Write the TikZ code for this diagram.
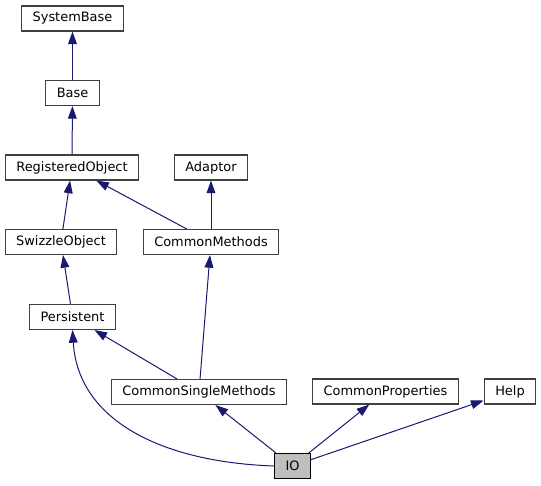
\documentclass[tikz,border=0pt]{standalone}
\usepackage{fontspec}
\setmainfont{DejaVu Sans}
\usetikzlibrary{arrows.meta}
\definecolor{edgeblue}{HTML}{191970}
\definecolor{boxline}{HTML}{404040}
\definecolor{curfill}{HTML}{BFBFBF}
\tikzset{
  cls/.style={draw=boxline, line width=0.8pt, fill=white, inner xsep=8.3pt, inner ysep=0pt,
              minimum height=18.75pt, font=\fontsize{9.7}{11}\selectfont},
  cur/.style={cls, fill=curfill, draw=black},
  inherit/.style={draw=edgeblue, line width=0.75pt, -{Triangle[length=9.5pt,width=6.6pt]}}
}
\begin{document}
\begin{tikzpicture}[x=0.75pt,y=-0.75pt]
                                \useasboundingbox (0,0) rectangle (541,485);
                                \node[cls] (sysbase) at (72.5,18.5) {SystemBase};
                                \node[cls] (base) at (72.5,93) {Base};
                                \node[cls] (regobj) at (72,167.5) {RegisteredObject};
                                \node[cls] (adaptor) at (211,167.5) {Adaptor};
                                \node[cls] (swizzle) at (61,242) {SwizzleObject};
                                \node[cls] (cmeth) at (211,242) {CommonMethods};
                                \node[cls] (persist) at (72.5,317) {Persistent};
                                \node[cls] (csmeth) at (199,392) {CommonSingleMethods};
                                \node[cls] (cprops) at (385.5,391.5) {CommonProperties};
                                \node[cls] (help) at (510,391.5) {Help};
                                \node[cur] (io) at (292.5,466) {IO};
                                \draw[inherit] (base) -- (sysbase);
                                \draw[inherit] (regobj) -- (base);
                                \draw[inherit] (swizzle) -- (regobj);
                                \draw[inherit] (cmeth) -- (regobj);
                                \draw[inherit] (cmeth) -- (adaptor);
                                \draw[inherit] (persist) -- (swizzle);
                                \draw[inherit] (csmeth) -- (cmeth);
                                \draw[inherit] (csmeth) -- (persist);
                                \draw[inherit] (io.west) .. controls +(-113,-4) and +(5.5,90) .. (persist.south);
                                \draw[inherit] (io) -- (csmeth);
                                \draw[inherit] (io) -- (cprops);
                                \draw[inherit] (io) -- (help);
                            \end{tikzpicture}
\end{document}
